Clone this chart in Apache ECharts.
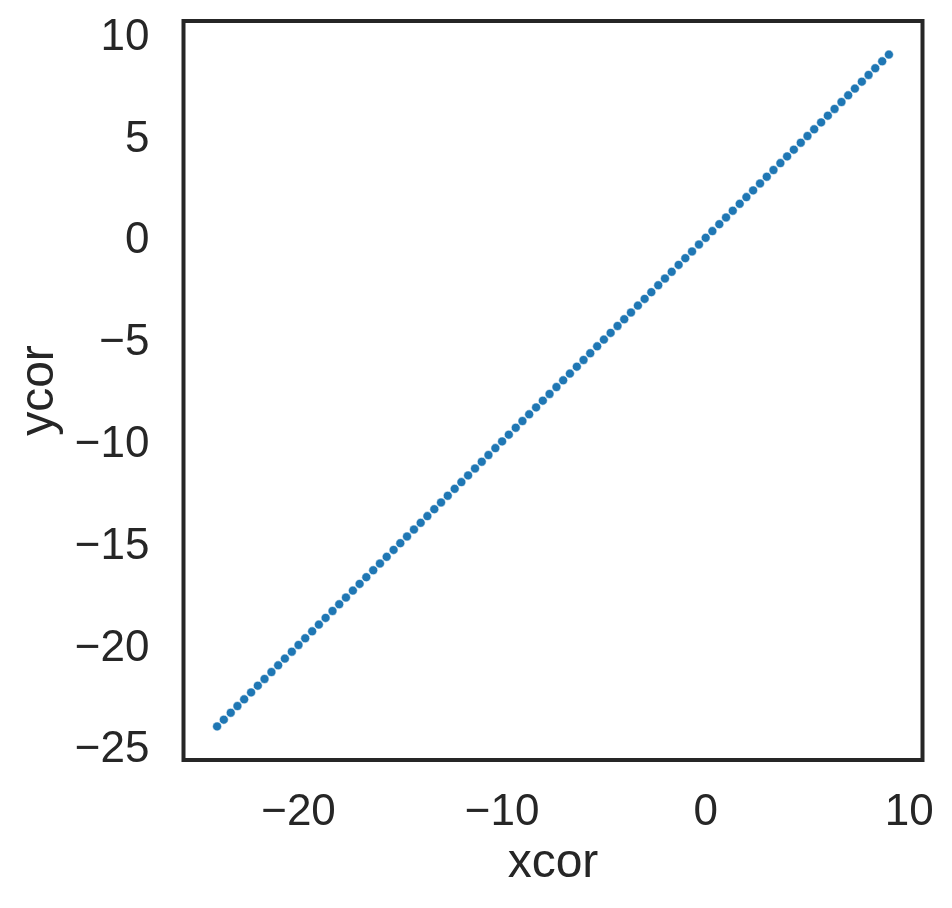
<!DOCTYPE html>
<html>
<head>
<meta charset="utf-8">
<script src="https://cdn.jsdelivr.net/npm/echarts@6/dist/echarts.min.js"></script>
<style>
html,body{margin:0;padding:0;background:#fff;}
#chart{width:952px;height:908px;}
</style>
</head>
<body>
<div id="chart"></div>
<script>
const xcor = [-24,-23.67,-23.33,-23,-22.67,-22.33,-22,-21.67,-21.33,-21,-20.67,-20.33,-20,-19.67,-19.33,-19,-18.67,-18.33,-18,-17.67,-17.33,-17,-16.67,-16.33,-16,-15.67,-15.33,-15,-14.67,-14.33,-14,-13.67,-13.33,-13,-12.67,-12.33,-12,-11.67,-11.33,-11,-10.67,-10.33,-10,-9.67,-9.33,-9,-8.67,-8.33,-8,-7.67,-7.33,-7,-6.67,-6.33,-6,-5.67,-5.33,-5,-4.67,-4.33,-4,-3.67,-3.33,-3,-2.67,-2.33,-2,-1.67,-1.33,-1,-0.67,-0.33,0,0.33,0.67,1,1.33,1.67,2,2.33,2.67,3,3.33,3.67,4,4.33,4.67,5,5.33,5.67,6,6.33,6.67,7,7.33,7.67,8,8.33,8.67,9];
const ycor = [-24,-23.67,-23.33,-23,-22.67,-22.33,-22,-21.67,-21.33,-21,-20.67,-20.33,-20,-19.67,-19.33,-19,-18.67,-18.33,-18,-17.67,-17.33,-17,-16.67,-16.33,-16,-15.67,-15.33,-15,-14.67,-14.33,-14,-13.67,-13.33,-13,-12.67,-12.33,-12,-11.67,-11.33,-11,-10.67,-10.33,-10,-9.67,-9.33,-9,-8.67,-8.33,-8,-7.67,-7.33,-7,-6.67,-6.33,-6,-5.67,-5.33,-5,-4.67,-4.33,-4,-3.67,-3.33,-3,-2.67,-2.33,-2,-1.67,-1.33,-1,-0.67,-0.33,0,0.33,0.67,1,1.33,1.67,2,2.33,2.67,3,3.33,3.67,4,4.33,4.67,5,5.33,5.67,6,6.33,6.67,7,7.33,7.67,8,8.33,8.67,9];
const xTicks = [-20, -10, 0, 10];
const yTicks = [-25, -20, -15, -10, -5, 0, 5, 10];
const xRange = [-25.65, 10.65];
const yRange = [-25.65, 10.65];

const fmt = v => (v < 0 ? '\u2212' + Math.abs(v) : String(v));
const font = '"Liberation Sans", Arial, Helvetica, sans-serif';
const ink = '#262626';

const chart = echarts.init(document.getElementById('chart'), null, {renderer: 'canvas'});
chart.setOption({
  backgroundColor: '#ffffff',
  animation: false,
  grid: {
    left: 183.5, top: 21, right: 29.5, bottom: 148,
    show: true, borderColor: ink, borderWidth: 4, backgroundColor: 'transparent',
    containLabel: false
  },
  xAxis: {
    type: 'value', min: xRange[0], max: xRange[1],
    name: 'xcor', nameLocation: 'middle', nameGap: 79,
    nameTextStyle: {fontFamily: font, fontSize: 48, color: ink},
    axisLine: {show: false}, axisTick: {show: false}, splitLine: {show: false},
    axisLabel: {
      customValues: xTicks, formatter: fmt, margin: 31,
      fontFamily: font, fontSize: 44, color: ink, showMinLabel: true, showMaxLabel: true
    }
  },
  yAxis: {
    type: 'value', min: yRange[0], max: yRange[1],
    name: 'ycor', nameLocation: 'middle', nameGap: 112,
    nameTextStyle: {fontFamily: font, fontSize: 48, color: ink},
    axisLine: {show: false}, axisTick: {show: false}, splitLine: {show: false},
    axisLabel: {
      customValues: yTicks, formatter: v => '{t|' + fmt(v) + '}', margin: 34,
      rich: {t: {fontFamily: font, fontSize: 44, color: ink, padding: [7, 0, 0, 0]}},
      fontFamily: font, fontSize: 44, color: ink, showMinLabel: true, showMaxLabel: true
    }
  },
  series: [{
    type: 'scatter',
    data: xcor.map((x, i) => [x, ycor[i]]),
    symbol: 'circle', symbolSize: 9,
    itemStyle: {color: '#1f77b4', borderColor: '#ffffff', borderWidth: 0.6, opacity: 1}
  }]
});
</script>
</body>
</html>
